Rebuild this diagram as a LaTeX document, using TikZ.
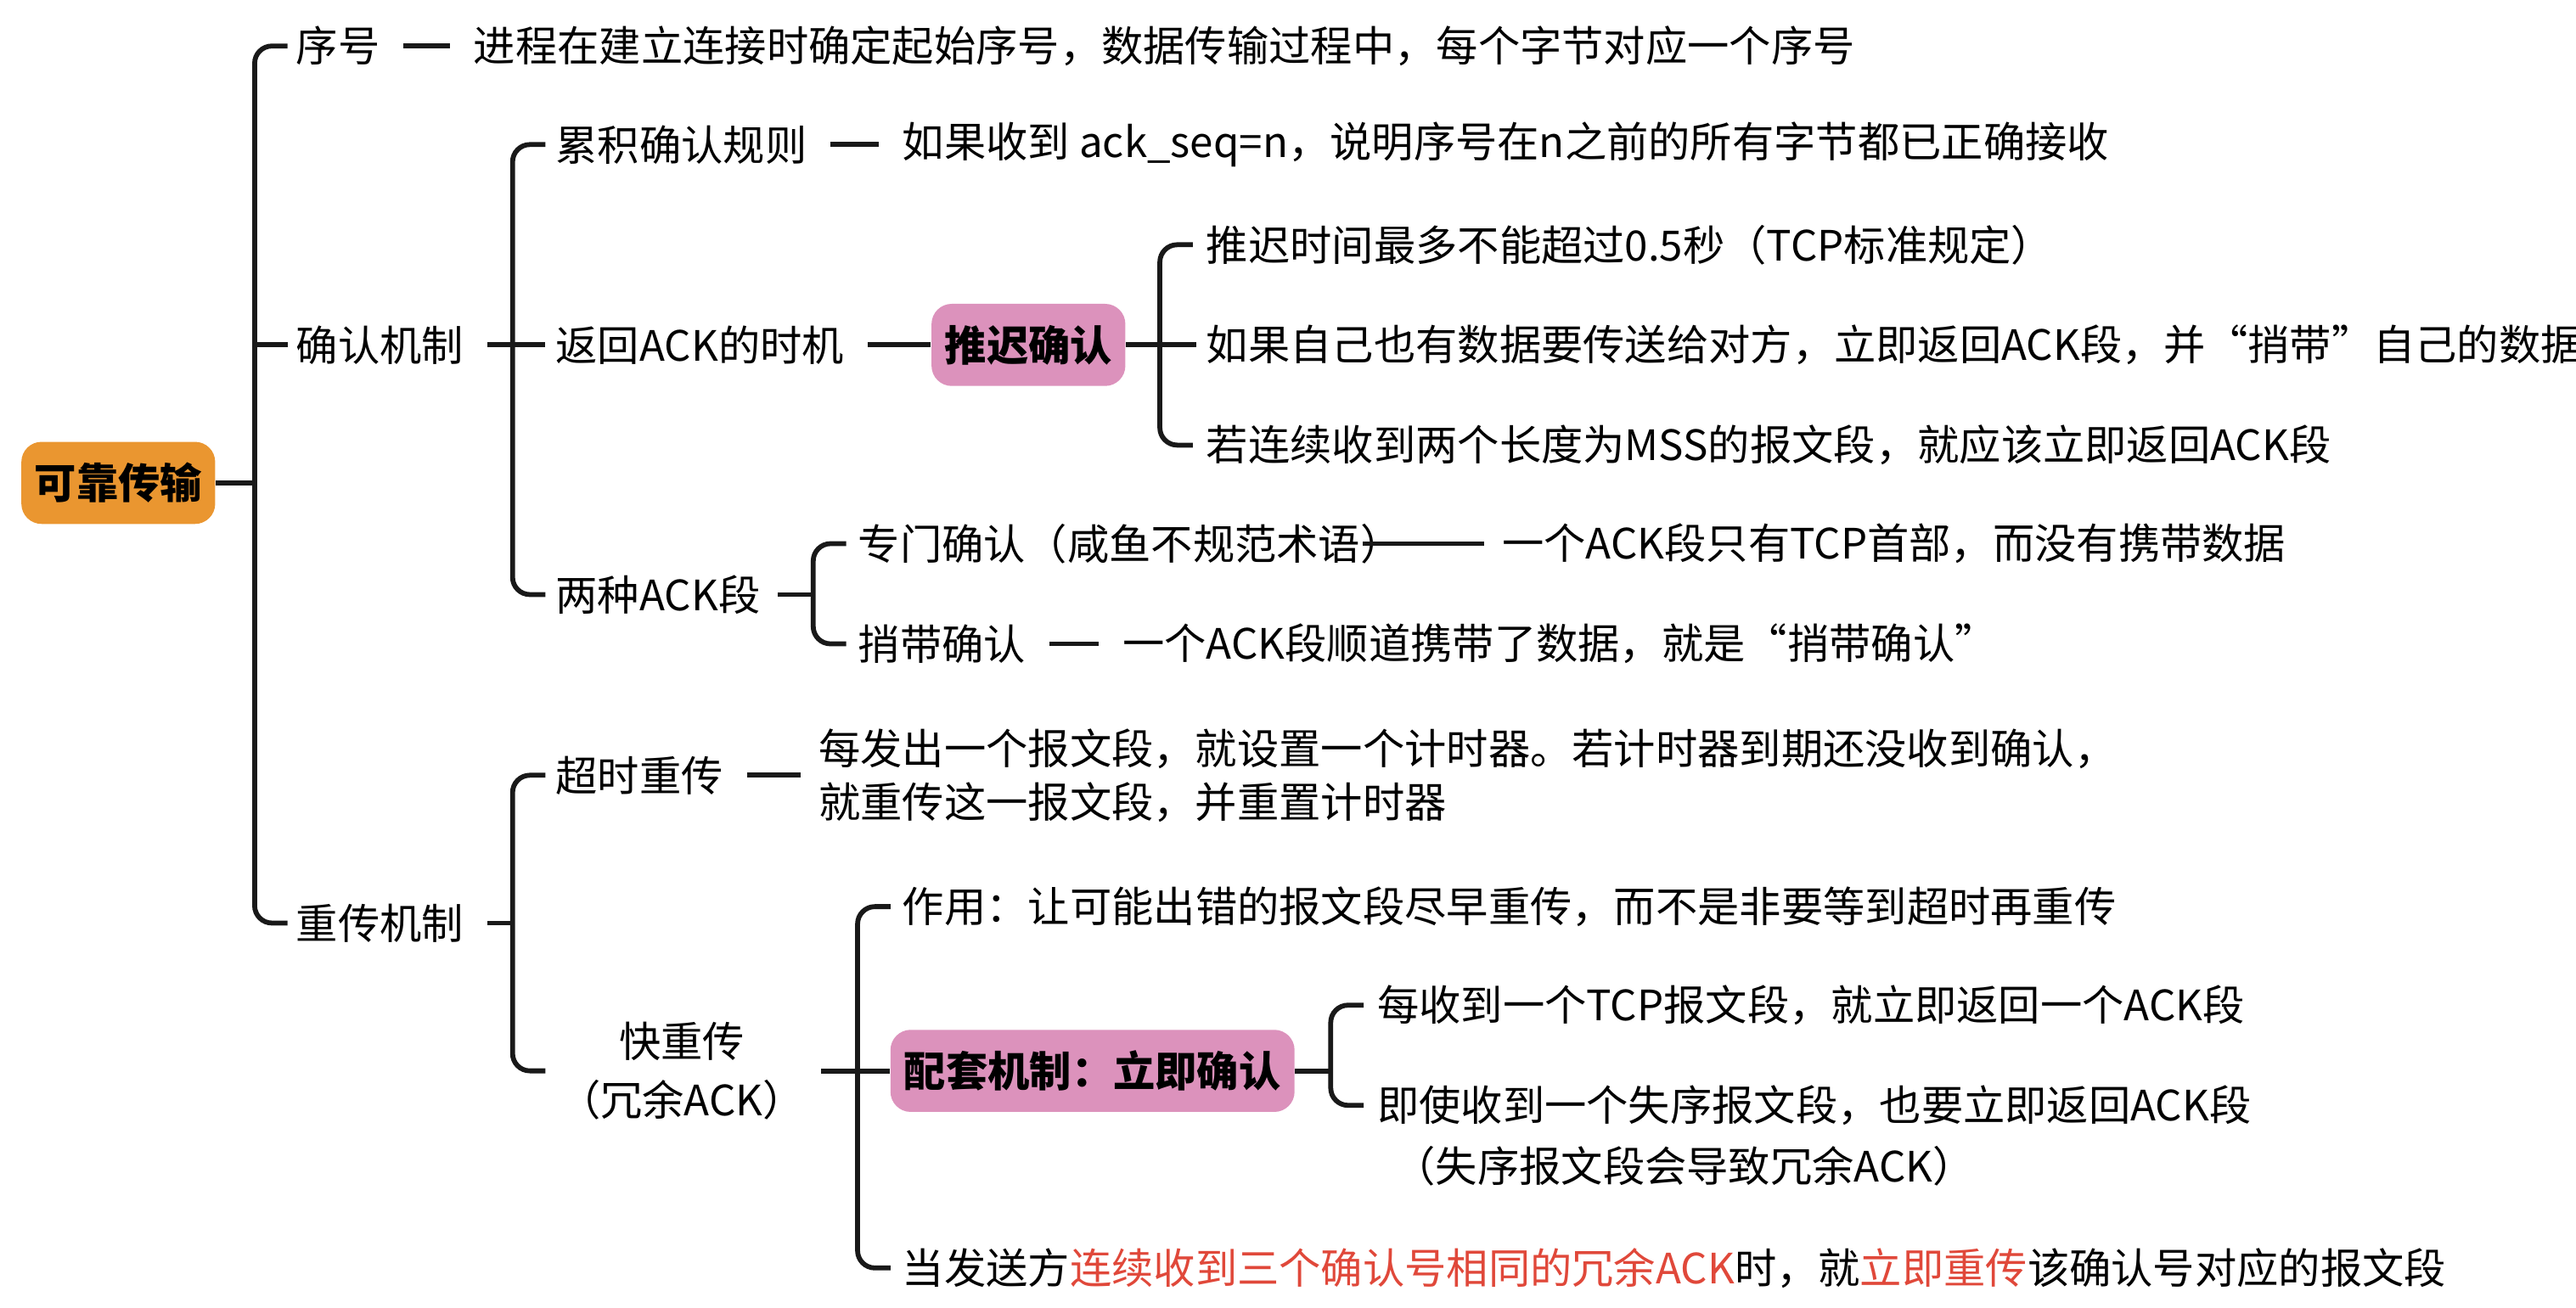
\documentclass[tikz,border=0pt]{standalone}
\usepackage{fontspec}
\setmainfont{Noto Sans CJK SC}
\definecolor{rootorange}{HTML}{EA9630}
\definecolor{hlpink}{HTML}{DC92BC}
\definecolor{hlred}{HTML}{E0483A}
\tikzset{
  txt/.style={anchor=west,inner sep=0pt,font=\fontsize{14.5}{18.5}\selectfont},
  box/.style={rounded corners=7pt,inner sep=0pt,minimum height=1cm,font=\fontsize{14.5}{18}\selectfont\bfseries},
  link/.style={line width=1.7pt,black!90},
}
% bracket: x, top y, bottom y
\newcommand{\brak}[3]{\draw[link,rounded corners=6pt] (#1+20,#2) -- (#1,#2) -- (#1,#3) -- (#1+20,#3);}

\begin{document}
\begin{tikzpicture}[x=0.02cm,y=-0.02cm]
  \useasboundingbox (0,0) rectangle (1568,796);
  % root
  \node[box,fill=rootorange,minimum width=2.36cm] (root) at (72,294) {可靠传输};
  \brak{155}{28}{562}
  \draw[link] (root.east) -- (155,294);
  \draw[link] (155,210) -- (175,210);
  \node[txt] (seq) at (180,28) {序号};
  \node[txt] (ack) at (180,210) {确认机制};
  \node[txt] (ret) at (180,562) {重传机制};
  % sequence
  \node[txt] (seqd) at (288,28) {进程在建立连接时确定起始序号，数据传输过程中，每个字节对应一个序号};
  \draw[link] ([xshift=8]seq.east) -- ([xshift=-8]seqd.west);
  % acknowledgement
  \draw[link] ([xshift=8]ack.east) -- (312,210);
  \brak{312}{88}{362}
  \draw[link] (312,210) -- (332,210);
  \node[txt] (cum) at (338,88) {累积确认规则};
  \node[txt] (when) at (338,210) {返回ACK的时机};
  \node[txt] (two) at (338,362) {两种ACK段};
  \node[txt] (cumd) at (549,88) {如果收到 ack\_seq=n，说明序号在n之前的所有字节都已正确接收};
  \draw[link] ([xshift=8]cum.east) -- ([xshift=-8]cumd.west);
  \node[box,fill=hlpink,minimum width=2.36cm] (delay) at (626,210) {推迟确认};
  \draw[link] ([xshift=8]when.east) -- (delay.west);
  \draw[link] (delay.east) -- (706,210) -- (728,210);
  \brak{706}{149}{271}
  \node[txt] (d1) at (734,149) {推迟时间最多不能超过0.5秒（TCP标准规定）};
  \node[txt] (d2) at (734,210) {如果自己也有数据要传送给对方，立即返回ACK段，并“捎带”自己的数据};
  \node[txt] (d3) at (734,271) {若连续收到两个长度为MSS的报文段，就应该立即返回ACK段};
  \draw[link] ([xshift=6]two.east) -- (495,362);
  \brak{495}{331}{392}
  \node[txt] (pure) at (522,331) {专门确认（咸鱼不规范术语）};
  \node[txt] (pig) at (522,392) {捎带确认};
  \node[txt] (pured) at (914,331) {一个ACK段只有TCP首部，而没有携带数据};
  \node[txt] (pigd) at (683,392) {一个ACK段顺道携带了数据，就是“捎带确认”};
  \draw[link] ([xshift=-48]pured.west) -- ([xshift=-6]pured.west);
  \draw[link] ([xshift=8]pig.east) -- ([xshift=-8]pigd.west);
  % retransmission
  \draw[link] ([xshift=8]ret.east) -- (312,562);
  \brak{312}{472}{652}
  \node[txt] (rto) at (338,472) {超时重传};
  \node[txt,align=left] (rtod) at (498,472) {每发出一个报文段，就设置一个计时器。若计时器到期还没收到确认，\\就重传这一报文段，并重置计时器};
  \draw[link] ([xshift=8]rto.east) -- ([xshift=-6]rtod.west);
  \node[inner sep=0pt,align=center,font=\fontsize{14.5}{20.5}\selectfont] (fast) at (415,652) {快重传\\（冗余ACK）};
  \draw[link] (500,652) -- (522,652);
  \brak{522}{552}{772}
  \node[txt] (f1) at (549,552) {作用：让可能出错的报文段尽早重传，而不是非要等到超时再重传};
  \node[box,fill=hlpink,minimum width=4.92cm] (imm) at (665,652) {配套机制：立即确认};
  \draw[link] (522,652) -- (imm.west);
  \node[txt] (f3) at (549,772) {当发送方\textcolor{hlred}{连续收到三个确认号相同的冗余ACK}时，就\textcolor{hlred}{立即重传}该确认号对应的报文段};
  \draw[link] (imm.east) -- (810,652);
  \brak{810}{612}{673}
  \node[txt] (i1) at (838,612) {每收到一个TCP报文段，就立即返回一个ACK段};
  \node[txt] (i2) at (838,673) {即使收到一个失序报文段，也要立即返回ACK段};
  \node[txt] (i3) at (848,710) {（失序报文段会导致冗余ACK）};
\end{tikzpicture}
\end{document}
